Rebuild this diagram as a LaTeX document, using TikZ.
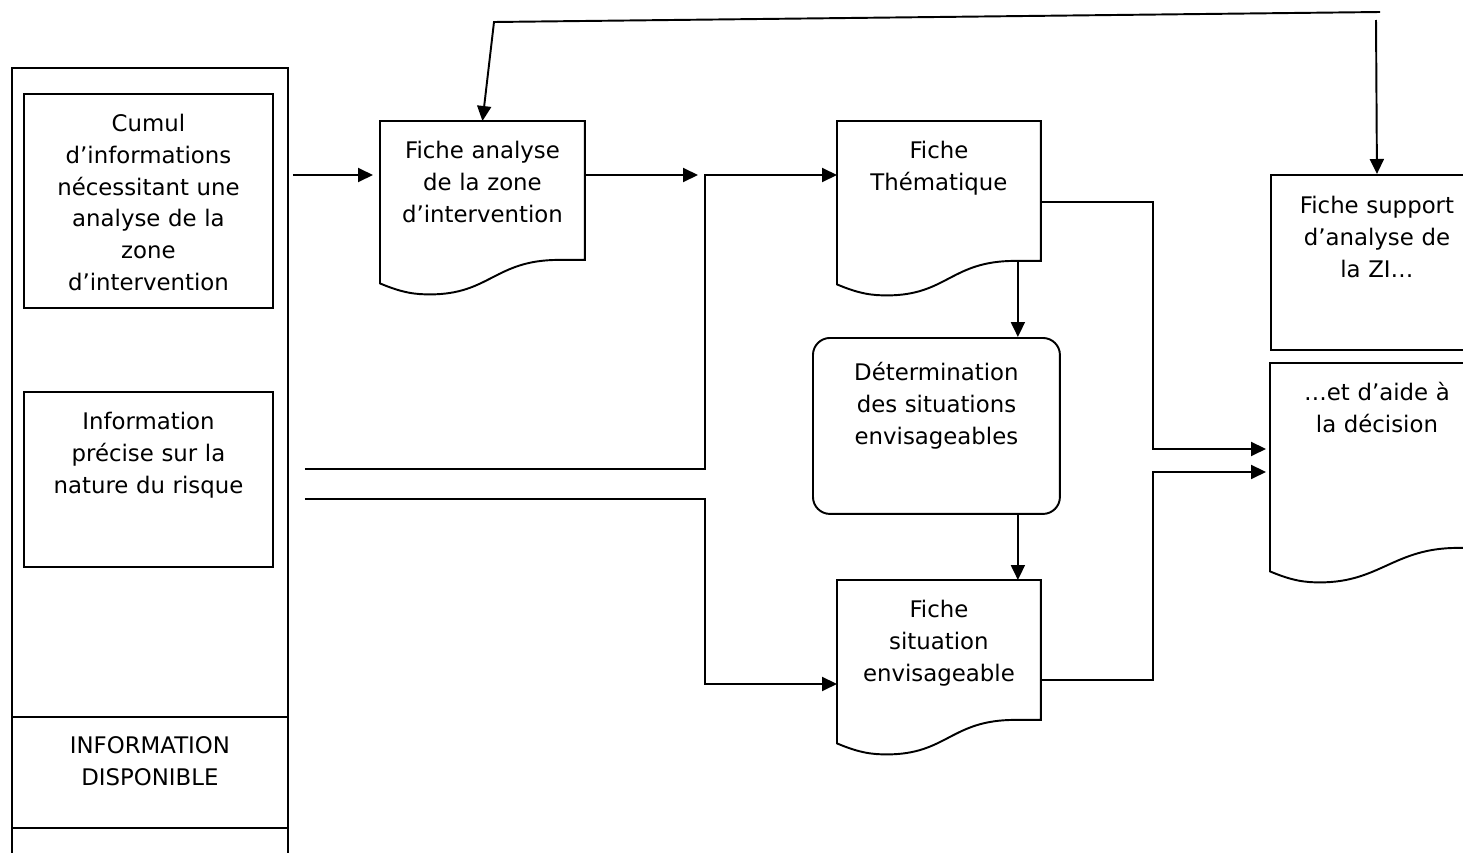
\documentclass[tikz,border=0pt]{standalone}
\usepackage{fontspec}
\setmainfont{DejaVu Sans}
\usetikzlibrary{arrows.meta,calc}
\tikzset{
  box/.style={draw, line width=1.1pt, align=center, anchor=north west, inner xsep=1mm, inner ysep=0pt, font=\fontsize{13}{18}\selectfont},
  docbox/.style={box, draw=none},
  roundbox/.style={box, rounded corners=3.4mm},
  arrow/.style={-{Triangle[length=3mm,width=2.8mm]}, line width=1.1pt},
  link/.style={line width=1.1pt}
}
% contour d'une fiche (bas ondule)
\newcommand{\docoutline}[1]{%
  \draw[link] (#1.south east) -- (#1.north east) -- (#1.north west) -- ($(#1.south west)+(0,-0.47cm)$)
    .. controls ($(#1.south west)+(0.45cm,-0.66cm)$) and ($(#1.south west)+(0.7cm,-0.69cm)$) .. ($(#1.south west)+(1.0cm,-0.69cm)$)
    .. controls ($(#1.south west)+(2.2cm,-0.69cm)$) and ($(#1.south east)+(-1.8cm,0)$) .. ($(#1.south east)+(-0.52cm,0)$)
    -- cycle;}

\begin{document}
\begin{tikzpicture}[x=0.02cm, y=-0.02cm]
  \clip (0,0) rectangle (1463,852);
  % colonne de gauche
  \node[box, minimum width=5.52cm, minimum height=16.66cm] (colonne) at (11,67) {};
  \node[box, text width=4.78cm, text height=0.76cm, text depth=3.52cm] (cumul) at (23,93) {Cumul\\d’informations\\nécessitant une\\analyse de la\\zone\\d’intervention};
  \node[box, text width=4.78cm, text height=0.76cm, text depth=2.74cm] (info) at (23,391) {Information\\précise sur la\\nature du risque};
  \node[box, text width=5.32cm, text height=0.74cm, text depth=1.48cm] (dispo) at (11,716) {INFORMATION\\DISPONIBLE};
  % fiches
  \node[docbox, text width=3.86cm, text height=0.74cm, text depth=2.0cm] (analyse) at (380,121) {Fiche analyse\\de la zone\\d’intervention};
  \node[docbox, text width=3.84cm, text height=0.74cm, text depth=2.02cm] (thema) at (837,121) {Fiche\\Thématique};
  \node[roundbox, text width=4.74cm, text height=0.86cm, text depth=2.66cm] (determ) at (812,337) {Détermination\\des situations\\envisageables};
  \node[docbox, text width=3.84cm, text height=0.74cm, text depth=2.02cm] (situation) at (837,580) {Fiche\\situation\\envisageable};
  \node[box, text width=4.04cm, text height=0.78cm, text depth=2.72cm] (support) at (1270,174) {Fiche support\\d’analyse de\\la ZI…};
  \node[docbox, text width=4.04cm, text height=0.74cm, text depth=2.92cm] (aide) at (1270,363) {…et d’aide à\\la décision};
  \docoutline{analyse}
  \docoutline{thema}
  \docoutline{situation}
  \docoutline{aide}
  % points de passage
  \coordinate (jonction) at (705,175);
  \coordinate (rail) at (1153,0);
  \coordinate (haut) at (1380,12);
  \coordinate (coude) at (494,22);
  \coordinate (depart) at (1376,20);
  % liaisons
  \draw[arrow] ($(colonne.east |- jonction)+(0.08cm,0)$) -- ($(analyse.west |- jonction)+(-0.14cm,0)$);
  \draw[arrow] (analyse.east |- jonction) -- ($(jonction)+(-0.14cm,0)$);
  \draw[arrow] ($(colonne.east |- info.east)+(0.32cm,0.21cm)$) -| (jonction) -- (thema.west |- jonction);
  \draw[arrow] ($(colonne.east |- info.east)+(0.32cm,-0.39cm)$) -| ($(jonction |- situation.north)+(0,-2.08cm)$) -- ($(situation.north west)+(0,-2.08cm)$);
  \draw[arrow] ($(thema.south east)+(-0.46cm,0)$) coordinate (axe) -- (axe |- determ.north);
  \draw[arrow] (determ.south -| axe) -- (axe |- situation.north);
  \draw[arrow] ($(thema.north east)+(0,-1.62cm)$) -| ($(rail |- aide.north)+(0,-1.72cm)$) -- ($(aide.north west)+(-0.08cm,-1.72cm)$);
  \draw[arrow] ($(situation.north east)+(0,-2.0cm)$) -| ($(rail |- aide.north)+(0,-2.18cm)$) -- ($(aide.north west)+(-0.08cm,-2.18cm)$);
  \draw[arrow] (haut) -- (coude) -- (analyse.north);
  \draw[arrow] (depart) -- (support.north);
\end{tikzpicture}
\end{document}
